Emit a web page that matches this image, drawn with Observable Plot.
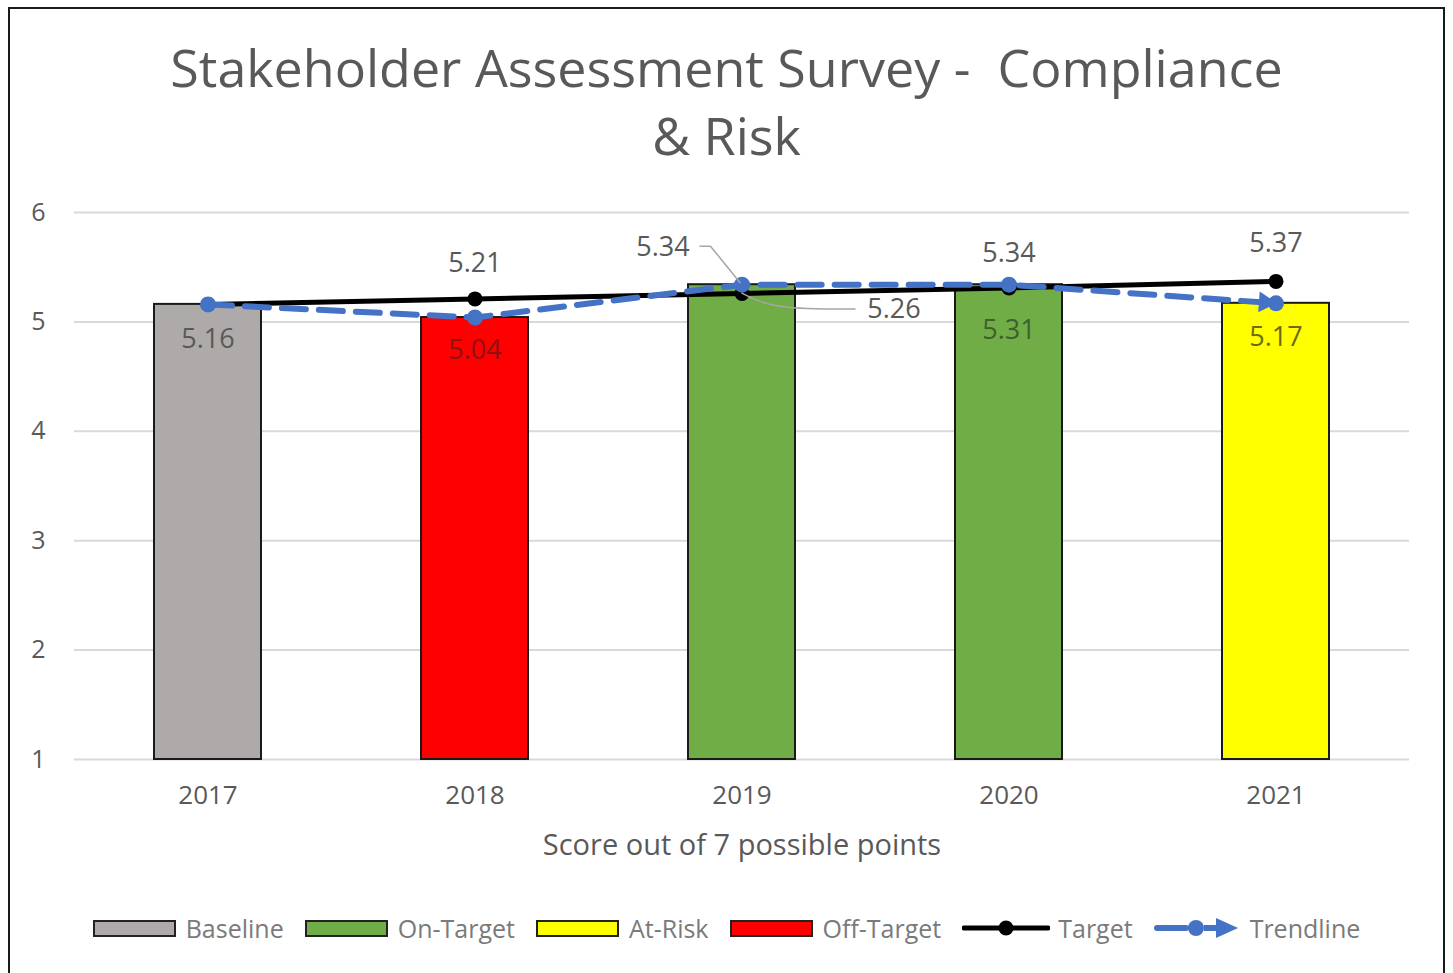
<!DOCTYPE html>
<html><head><meta charset="utf-8">
<script src="https://cdn.jsdelivr.net/npm/d3@7"></script>
<script src="https://cdn.jsdelivr.net/npm/@observablehq/plot@0.6"></script>
<style>
body{margin:0;background:#fff;font-family:"Open Sans",Lato,sans-serif;}
#wrap{position:relative;width:1453px;height:973px;overflow:hidden;background:#fff;}
#frame{position:absolute;left:8px;top:7px;width:1437px;height:990px;border:2.5px solid #1a1a1a;box-sizing:border-box;}
#title{position:absolute;left:0;top:33px;width:1453px;text-align:center;font-size:52px;line-height:68px;color:#595959;white-space:pre;}
#chart{position:absolute;left:0;top:180px;}
#legend{position:absolute;left:0;top:911px;width:1453px;height:34px;display:flex;justify-content:center;align-items:center;font-size:25px;color:#7a7a7a;}
.item{display:flex;align-items:center;margin:0 10.5px;}
.sw{display:inline-block;width:83px;height:17px;border:2.5px solid #222;box-sizing:border-box;margin-right:10px;}
.item svg{margin-right:8px;}
</style></head>
<body>
<div id="wrap">
  <div id="frame"></div>
  <div id="title"></div>
  <div id="chart"></div>
  <div id="legend"></div>
</div>
<script>
// ---- data ----
const years = ["2017", "2018", "2019", "2020", "2021"];
const scores = [5.16, 5.04, 5.34, 5.34, 5.17];
const statuses = ["Baseline", "Off-Target", "On-Target", "On-Target", "At-Risk"];
const targets = [5.16, 5.21, 5.26, 5.31, 5.37];
const trendline = [5.16, 5.04, 5.34, 5.34, 5.17];
const yTicks = [1, 2, 3, 4, 5, 6];
const legendItems = ["Baseline", "On-Target", "At-Risk", "Off-Target", "Target", "Trendline"];
const labelYears = ["2017", "2018", "2018", "2019", "2019", "2020", "2020", "2021", "2021"];
const labelValues = [5.16, 5.04, 5.21, 5.34, 5.26, 5.34, 5.31, 5.37, 5.17];
const titleLines = ["Stakeholder Assessment Survey -  Compliance", "& Risk"];
const xLabel = "Score out of 7 possible points";

// ---- styles ----
const statusColors = {"Baseline": "#aeaaaa", "On-Target": "#70ad47", "At-Risk": "#ffff00", "Off-Target": "#ff0000"};
const labelDx = [0, 0, 0, -79, 152, 0, 0, 0, 0];
const labelDy = [35, 33, -36, -37, 16, -31, 42, -38, 34];
const labelColors = ["#595959", "#8e1010", "#595959", "#595959", "#595959", "#595959", "#3f5f2e", "#595959", "#6b6b10"];

document.getElementById("title").textContent = titleLines.join("\n");

const rows = years.map((year, i) => ({year, score: scores[i], status: statuses[i], target: targets[i], trend: trendline[i]}));
const labels = labelYears.map((year, i) => ({year, value: labelValues[i]}));

// leader lines (pixel shapes anchored at data points)
function leaders(index, scales, values, dims) {
  const x = scales.x, y = scales.y;
  const bw = typeof x.bandwidth === "function" ? x.bandwidth() : 0;
  const g = d3.create("svg:g").attr("fill", "none").attr("stroke", "#a6a6a6").attr("stroke-width", 1.5);
  const i = years.indexOf("2019");
  const cx = x(years[i]) + bw / 2;
  const y1 = y(scores[i]);
  const y2 = y(targets[i]);
  g.append("path").attr("d", `M${cx - 42},${y1 - 38}L${cx - 31},${y1 - 38}L${cx - 1},${y1 - 1}`);
  g.append("path").attr("d", `M${cx},${y2}C${cx + 20},${y2 + 12} ${cx + 40},${y2 + 16} ${cx + 92},${y2 + 16}L${cx + 114},${y2 + 16}`);
  return g.node();
}

const FONT = "'Open Sans', Lato, sans-serif";
const chart = Plot.plot({
  width: 1453,
  height: 700,
  marginLeft: 74,
  marginRight: 44,
  marginTop: 32,
  marginBottom: 121,
  x: {domain: years, paddingInner: 0.6, paddingOuter: 0.3, label: null},
  y: {domain: [1, 6], label: null},
  style: {fontFamily: FONT, fontSize: "26px", color: "#595959", background: "transparent", overflow: "visible"},
  marks: [
    Plot.gridY(yTicks, {stroke: "#d9d9d9", strokeOpacity: 1, strokeWidth: 2}),
    Plot.axisY(yTicks, {tickSize: 0, tickPadding: 29, tickFormat: d3.format("d"), label: null, fontSize: 25, fill: "#595959"}),
    Plot.axisX({tickSize: 0, tickPadding: 26, fontSize: 26, fill: "#595959", label: xLabel, labelAnchor: "center", labelOffset: 95}),
    Plot.barY(rows, {x: "year", y1: 1, y2: "score", fill: d => statusColors[d.status], stroke: "#1a1a1a", strokeWidth: 2}),
    Plot.line(rows, {x: "year", y: "target", stroke: "#000", strokeWidth: 5}),
    Plot.dot(rows, {x: "year", y: "target", r: 7.5, fill: "#000"}),
    Plot.line(rows, {x: "year", y: "trend", stroke: "#4472c4", strokeWidth: 6, strokeDasharray: "24,13", strokeLinecap: "round"}),
    Plot.dot(rows, {x: "year", y: "trend", r: 8, fill: "#4472c4"}),
    Plot.dot(rows.slice(-1), {x: "year", y: "trend", symbol: "triangle2", r: 10, fill: "#4472c4", rotate: 94, dx: -11, dy: -1}),
    leaders,
    ...labels.map((l, i) => Plot.text([l], {x: "year", y: "value", text: d => d.value.toFixed(2), dx: labelDx[i], dy: labelDy[i], fill: labelColors[i], fontSize: 27}))
  ]
});
document.getElementById("chart").appendChild(chart);
// x-axis title font size
d3.select(chart).selectAll("[aria-label='x-axis label'] text").attr("font-size", 29);

// legend
const legend = d3.select("#legend");
legendItems.forEach(name => {
  const it = legend.append("div").attr("class", "item");
  if (statusColors[name]) {
    it.append("span").attr("class", "sw").style("background", statusColors[name]);
  } else if (name === "Target") {
    const s = it.append("svg").attr("width", 88).attr("height", 20);
    s.append("line").attr("x1", 2).attr("x2", 86).attr("y1", 10).attr("y2", 10).attr("stroke", "#000").attr("stroke-width", 5).attr("stroke-linecap", "round");
    s.append("circle").attr("cx", 44).attr("cy", 10).attr("r", 7.5).attr("fill", "#000");
  } else {
    const s = it.append("svg").attr("width", 88).attr("height", 22);
    s.append("line").attr("x1", 3).attr("x2", 32).attr("y1", 11).attr("y2", 11).attr("stroke", "#4472c4").attr("stroke-width", 6).attr("stroke-linecap", "round");
    s.append("circle").attr("cx", 42).attr("cy", 11).attr("r", 8).attr("fill", "#4472c4");
    s.append("line").attr("x1", 50).attr("x2", 66).attr("y1", 11).attr("y2", 11).attr("stroke", "#4472c4").attr("stroke-width", 6);
    s.append("path").attr("d", "M62,1L84,11L62,21Z").attr("fill", "#4472c4");
  }
  it.append("span").text(name);
});
</script>
</body></html>
